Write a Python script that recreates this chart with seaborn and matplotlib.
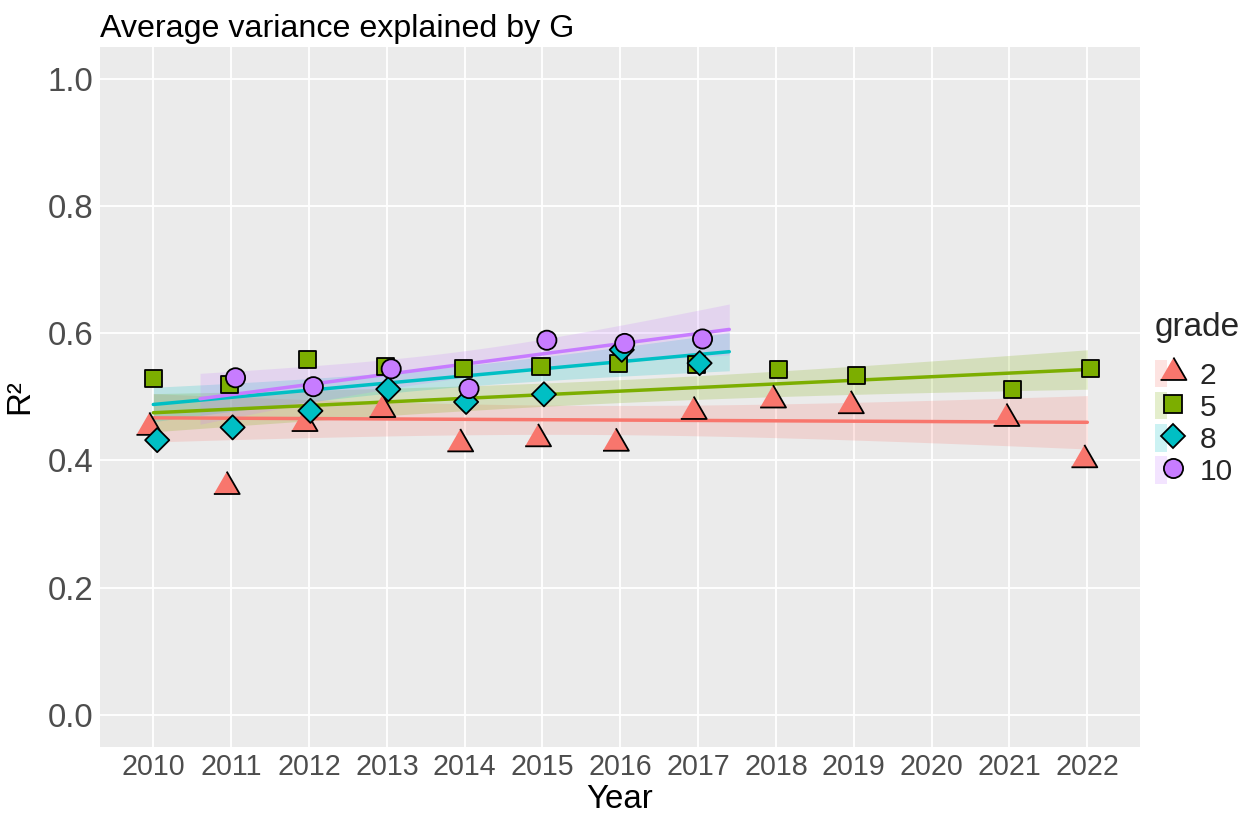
import numpy as np
import pandas as pd
import matplotlib
matplotlib.use("Agg")
import matplotlib.pyplot as plt
from matplotlib.patches import Patch
from matplotlib.lines import Line2D
from matplotlib.legend_handler import HandlerTuple
import seaborn as sns

# ---------------- data ----------------
grades = ["2", "5", "8", "10"]
years_g2 = [2010, 2011, 2012, 2013, 2014, 2015, 2016, 2017, 2018, 2019, 2021, 2022]
r2_g2 = [0.452, 0.359, 0.458, 0.480, 0.426, 0.434, 0.427, 0.477, 0.495, 0.486, 0.466, 0.401]
years_g5 = [2010, 2011, 2012, 2013, 2014, 2015, 2016, 2017, 2018, 2019, 2021, 2022]
r2_g5 = [0.529, 0.520, 0.559, 0.547, 0.544, 0.547, 0.552, 0.551, 0.543, 0.534, 0.512, 0.544]
years_g8 = [2010, 2011, 2012, 2013, 2014, 2015, 2016, 2017]
r2_g8 = [0.432, 0.452, 0.478, 0.512, 0.492, 0.504, 0.574, 0.553]
years_g10 = [2011, 2012, 2013, 2014, 2015, 2016, 2017]
r2_g10 = [0.530, 0.516, 0.544, 0.513, 0.589, 0.584, 0.591]

# smooth (linear trend fitted on underlying data) : range, fitted ends, CI half-widths
trend_x_start = [2010.0, 2010.0, 2010.0, 2010.6]
trend_x_end = [2022.0, 2022.0, 2017.4, 2017.4]
trend_y_start = [0.467, 0.475, 0.488, 0.497]
trend_y_end = [0.460, 0.543, 0.571, 0.606]
ci_hw_start = [0.038, 0.030, 0.027, 0.040]
ci_hw_mid = [0.023, 0.018, 0.016, 0.021]
ci_hw_end = [0.042, 0.031, 0.030, 0.040]

year_ticks = list(range(2010, 2023))
y_ticks = [0.0, 0.2, 0.4, 0.6, 0.8, 1.0]

# ---------------- style ----------------
palette = {"2": "#F8766D", "5": "#7CAE00", "8": "#00BFC4", "10": "#C77CFF"}
tri = [(0, 1.555), (1.347, -0.778), (-1.347, -0.778)]
markers = {"2": tri, "5": "s", "8": "D", "10": "o"}
msize = {"2": 21.5, "5": 12.3, "8": 12.3, "10": 13.8}  # points
sizes = {k: v ** 2 for k, v in msize.items()}

sns.set_theme(style="darkgrid", rc={
    "axes.facecolor": "#EBEBEB",
    "grid.color": "white",
    "grid.linewidth": 1.3,
    "axes.edgecolor": "none",
})
plt.rcParams["font.family"] = ["Liberation Sans", "DejaVu Sans"]

# build long table with dodged x positions
df = pd.concat([
    pd.DataFrame({"year": years_g2, "r2": r2_g2, "grade": "2"}),
    pd.DataFrame({"year": years_g5, "r2": r2_g5, "grade": "5"}),
    pd.DataFrame({"year": years_g8, "r2": r2_g8, "grade": "8"}),
    pd.DataFrame({"year": years_g10, "r2": r2_g10, "grade": "10"}),
], ignore_index=True)
dodge_w = 0.15
order = {g: i for i, g in enumerate(grades)}
df["gi"] = df["grade"].map(order)
df["rank"] = df.groupby("year")["gi"].rank(method="first") - 1
df["n"] = df.groupby("year")["gi"].transform("count")
df["xpos"] = df["year"] + (df["rank"] - (df["n"] - 1) / 2) * dodge_w / df["n"]

fig = plt.figure(figsize=(12.56, 8.17), dpi=100)
W, H = 1256, 817
ax = fig.add_axes([100 / W, 1 - 746.7 / H, 1040 / W, (746.7 - 47) / H])

# smooth ribbons + lines (per group: ribbon then line)
for i, g in enumerate(grades):
    x0, x1 = trend_x_start[i], trend_x_end[i]
    xs = np.linspace(x0, x1, 80)
    ys = trend_y_start[i] + (trend_y_end[i] - trend_y_start[i]) * (xs - x0) / (x1 - x0)
    coef = np.polyfit([x0, (x0 + x1) / 2, x1],
                      [ci_hw_start[i] ** 2, ci_hw_mid[i] ** 2, ci_hw_end[i] ** 2], 2)
    hw = np.sqrt(np.clip(np.polyval(coef, xs), 0, None))
    ax.fill_between(xs, ys - hw, ys + hw, color=palette[g], alpha=0.2, linewidth=0, zorder=2)
    sns.lineplot(x=xs, y=ys, color=palette[g], linewidth=2.5, ax=ax, zorder=3, legend=False)

sns.scatterplot(data=df, x="xpos", y="r2", hue="grade", style="grade", size="grade",
                hue_order=grades, style_order=grades, size_order=grades,
                palette=palette, markers=markers, sizes=sizes,
                edgecolor="black", linewidth=1.3, ax=ax, legend=False, zorder=4)

ax.set_xlim(2009.315, 2022.677)
ax.set_ylim(-0.05, 1.05)
ax.set_xticks(year_ticks)
ax.set_xticklabels([str(y) for y in year_ticks])
ax.set_yticks(y_ticks)
ax.set_yticklabels([f"{v:.1f}" for v in y_ticks])
ax.grid(True, which="major")
ax.tick_params(axis="both", which="major", length=2.7, width=0.8, color="#333333",
               labelcolor="#4D4D4D", pad=2)
ax.tick_params(axis="x", labelsize=20.6)
ax.tick_params(axis="y", labelsize=23.8)
ax.set_xlabel("Year", fontsize=23.8, color="black", labelpad=2)
ax.set_ylabel("R²", fontsize=23.8, color="black", labelpad=9)
ax.set_title("Average variance explained by G", loc="left", fontsize=23.2,
             color="black", pad=7)
for s in ax.spines.values():
    s.set_visible(False)

# legend
handles = []
for g in grades:
    p = Patch(facecolor=palette[g], alpha=0.2, edgecolor="none")
    m = Line2D([], [], linestyle="none", marker=markers[g], markersize=msize[g],
               markerfacecolor=palette[g], markeredgecolor="black", markeredgewidth=1.3)
    handles.append((p, m))
leg = fig.legend(handles, grades, handler_map={tuple: HandlerTuple(ndivide=None, pad=0)},
                 title="grade", loc="upper left", bbox_to_anchor=(1155 / W, 1 - 312 / H),
                 frameon=False, fontsize=21.5, title_fontsize=24,
                 handlelength=0.8, handleheight=1.05, labelspacing=0.07,
                 handletextpad=0.7, borderpad=0, borderaxespad=0, alignment="left")
leg._legend_box.sep = 12

fig.savefig("out.png", dpi=100)
